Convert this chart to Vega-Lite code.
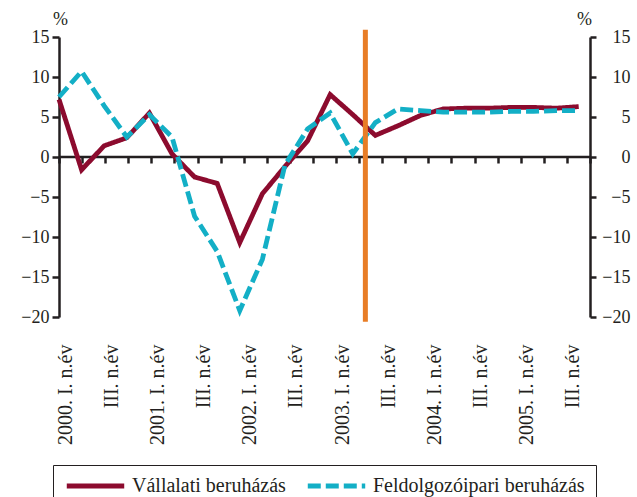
{
  "$schema": "https://vega.github.io/schema/vega-lite/v6.json",
  "width": 531,
  "height": 280,
  "autosize": {"type": "none"},
  "padding": {"left": 59, "top": 37, "right": 47, "bottom": 180},
  "background": "white",
  "config": {
    "view": {"stroke": null},
    "font": "Liberation Serif",
    "axis": {
      "grid": false,
      "labelFont": "Liberation Serif",
      "titleFont": "Liberation Serif",
      "labelColor": "#231F20",
      "titleColor": "#231F20",
      "domainColor": "#231F20",
      "tickColor": "#231F20"
    }
  },
  "datasets": {
    "series": [
      {"q": 0, "s": "Vállalati beruházás", "v": 7.2},
      {"q": 1, "s": "Vállalati beruházás", "v": -1.6},
      {"q": 2, "s": "Vállalati beruházás", "v": 1.4},
      {"q": 3, "s": "Vállalati beruházás", "v": 2.4},
      {"q": 4, "s": "Vállalati beruházás", "v": 5.5},
      {"q": 5, "s": "Vállalati beruházás", "v": 0.4},
      {"q": 6, "s": "Vállalati beruházás", "v": -2.5},
      {"q": 7, "s": "Vállalati beruházás", "v": -3.3},
      {"q": 8, "s": "Vállalati beruházás", "v": -10.7},
      {"q": 9, "s": "Vállalati beruházás", "v": -4.6},
      {"q": 10, "s": "Vállalati beruházás", "v": -1.2},
      {"q": 11, "s": "Vállalati beruházás", "v": 2.0},
      {"q": 12, "s": "Vállalati beruházás", "v": 7.8},
      {"q": 13, "s": "Vállalati beruházás", "v": 5.3},
      {"q": 14, "s": "Vállalati beruházás", "v": 2.7},
      {"q": 15, "s": "Vállalati beruházás", "v": 3.9},
      {"q": 16, "s": "Vállalati beruházás", "v": 5.2},
      {"q": 17, "s": "Vállalati beruházás", "v": 6.0},
      {"q": 18, "s": "Vállalati beruházás", "v": 6.1},
      {"q": 19, "s": "Vállalati beruházás", "v": 6.1},
      {"q": 20, "s": "Vállalati beruházás", "v": 6.2},
      {"q": 21, "s": "Vállalati beruházás", "v": 6.2},
      {"q": 22, "s": "Vállalati beruházás", "v": 6.1},
      {"q": 23, "s": "Vállalati beruházás", "v": 6.3},
      {"q": 0, "s": "Feldolgozóipari beruházás", "v": 7.5},
      {"q": 1, "s": "Feldolgozóipari beruházás", "v": 10.7},
      {"q": 2, "s": "Feldolgozóipari beruházás", "v": 6.4},
      {"q": 3, "s": "Feldolgozóipari beruházás", "v": 2.5},
      {"q": 4, "s": "Feldolgozóipari beruházás", "v": 5.3},
      {"q": 5, "s": "Feldolgozóipari beruházás", "v": 2.5},
      {"q": 6, "s": "Feldolgozóipari beruházás", "v": -7.4},
      {"q": 7, "s": "Feldolgozóipari beruházás", "v": -11.8},
      {"q": 8, "s": "Feldolgozóipari beruházás", "v": -19.2},
      {"q": 9, "s": "Feldolgozóipari beruházás", "v": -12.8},
      {"q": 10, "s": "Feldolgozóipari beruházás", "v": -1.0},
      {"q": 11, "s": "Feldolgozóipari beruházás", "v": 3.5},
      {"q": 12, "s": "Feldolgozóipari beruházás", "v": 5.5},
      {"q": 13, "s": "Feldolgozóipari beruházás", "v": 0.4},
      {"q": 14, "s": "Feldolgozóipari beruházás", "v": 4.3},
      {"q": 15, "s": "Feldolgozóipari beruházás", "v": 6.0},
      {"q": 16, "s": "Feldolgozóipari beruházás", "v": 5.8},
      {"q": 17, "s": "Feldolgozóipari beruházás", "v": 5.6},
      {"q": 18, "s": "Feldolgozóipari beruházás", "v": 5.6},
      {"q": 19, "s": "Feldolgozóipari beruházás", "v": 5.6},
      {"q": 20, "s": "Feldolgozóipari beruházás", "v": 5.7},
      {"q": 21, "s": "Feldolgozóipari beruházás", "v": 5.7},
      {"q": 22, "s": "Feldolgozóipari beruházás", "v": 5.8},
      {"q": 23, "s": "Feldolgozóipari beruházás", "v": 5.8}
    ],
    "marker": [{"q": 13.27, "top": 15.9, "bottom": -20.6}],
    "zero": [{"start": 0, "end": 23, "v": 0}]
  },
  "layer": [
    {
      "data": {"name": "zero"},
      "mark": {"type": "rule", "color": "#231F20", "strokeWidth": 2.5},
      "encoding": {
        "x": {
          "field": "start",
          "type": "quantitative",
          "scale": {"domain": [0, 23], "nice": false, "zero": false},
          "axis": {
            "orient": "bottom",
            "offset": -160,
            "values": [0,1,2,3,4,5,6,7,8,9,10,11,12,13,14,15,16,17,18,19,20,21,22,23],
            "labels": false,
            "domain": false,
            "ticks": true,
            "tickSize": 6,
            "tickWidth": 2.5,
            "title": null
          }
        },
        "x2": {"field": "end"},
        "y": {
          "field": "v",
          "type": "quantitative",
          "scale": {"domain": [-20, 15], "nice": false, "zero": false},
          "axis": null
        }
      }
    },
    {
      "data": {"name": "series"},
      "mark": {"type": "line", "strokeWidth": 4.8, "strokeJoin": "miter", "strokeCap": "butt"},
      "encoding": {
        "x": {
          "field": "q",
          "type": "quantitative",
          "scale": {"domain": [0, 23.5], "nice": false, "zero": false},
          "axis": null
        },
        "y": {
          "field": "v",
          "type": "quantitative",
          "scale": {"domain": [-20, 15], "nice": false, "zero": false},
          "axis": {
            "orient": "left",
            "values": [-20, -15, -10, -5, 0, 5, 10, 15],
            "tickSize": 7,
            "tickWidth": 2.5,
            "domainWidth": 2.5,
            "labelPadding": 3,
            "labelFontSize": 18,
            "title": "%",
            "titleAngle": 0,
            "titleX": 1,
            "titleY": -9,
            "titleAlign": "center",
            "titleFontSize": 18,
            "titleFontWeight": "normal"
          }
        },
        "color": {
          "field": "s",
          "type": "nominal",
          "scale": {
            "domain": ["Vállalati beruházás", "Feldolgozóipari beruházás"],
            "range": ["#8C0B2E", "#13AFC6"]
          },
          "legend": {
            "orient": "none",
            "legendX": -6,
            "legendY": 428,
            "direction": "horizontal",
            "title": null,
            "strokeColor": "#231F20",
            "padding": 11,
            "clipHeight": 20,
            "symbolType": "stroke",
            "symbolSize": 3300,
            "symbolStrokeWidth": 5,
            "labelFont": "Liberation Serif",
            "labelFontSize": 20,
            "labelColor": "#231F20",
            "columnPadding": 19,
            "labelOffset": 5,
            "labelLimit": 400
          }
        },
        "strokeDash": {
          "field": "s",
          "type": "nominal",
          "scale": {
            "domain": ["Vállalati beruházás", "Feldolgozóipari beruházás"],
            "range": [[1, 0], [13, 5]]
          }
        }
      }
    },
    {
      "data": {"name": "marker"},
      "mark": {"type": "rule", "color": "#E87D26", "strokeWidth": 5},
      "encoding": {
        "x": {
          "field": "q",
          "type": "quantitative",
          "scale": {"domain": [0, 23], "nice": false, "zero": false},
          "axis": {
            "orient": "bottom",
            "values": [0, 2, 4, 6, 8, 10, 12, 14, 16, 18, 20, 22],
            "labelExpr": "datum.value % 4 == 0 ? (2000 + datum.value / 4) + '. I. n.év' : 'III. n.év'",
            "labelAngle": -90,
            "labelAlign": "right",
            "labelBaseline": "middle",
            "labelPadding": 27,
            "labelOffset": 6,
            "labelFontSize": 20,
            "labelOverlap": false,
            "labelFlush": false,
            "ticks": false,
            "domain": false,
            "title": null
          }
        },
        "y": {
          "field": "top",
          "type": "quantitative",
          "scale": {"domain": [-20, 15], "nice": false, "zero": false},
          "axis": {
            "orient": "right",
            "values": [-20, -15, -10, -5, 0, 5, 10, 15],
            "tickSize": 6,
            "tickWidth": 2.5,
            "domainWidth": 2.5,
            "labelAlign": "right",
            "labelPadding": 34,
            "labelFontSize": 18,
            "title": "%",
            "titleAngle": 0,
            "titleX": -6,
            "titleY": -9,
            "titleAlign": "center",
            "titleFontSize": 18,
            "titleFontWeight": "normal"
          }
        },
        "y2": {"field": "bottom"}
      }
    }
  ],
  "resolve": {
    "scale": {"x": "independent"},
    "axis": {"x": "independent", "y": "independent"}
  }
}
